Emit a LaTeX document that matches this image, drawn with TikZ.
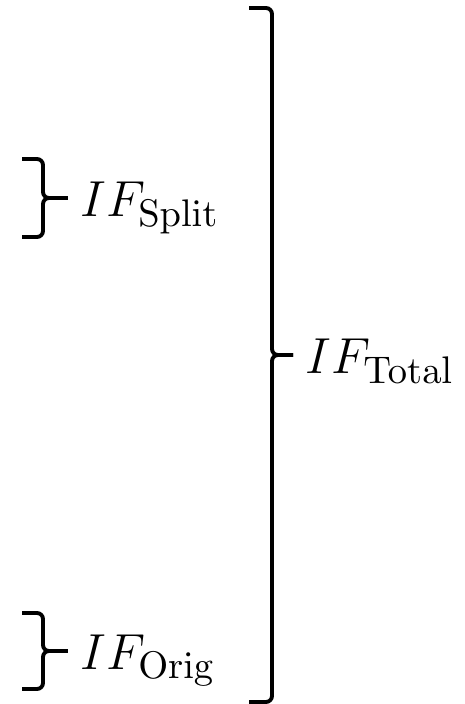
\documentclass[tikz,border=0pt]{standalone}
\usetikzlibrary{calc}

\begin{document}
\begin{tikzpicture}[
        bracepath/.style={draw, line width=1.1pt, rounded corners=0.06cm},
        lbl/.style={anchor=base west, yshift=-0.19cm, font=\fontsize{15}{18}\selectfont}
    ]
        \useasboundingbox (0,0) rectangle (4.65,7.04);

        % small braces on the left
        \coordinate (splittop) at (0.22,5.45);
        \coordinate (splitbot) at (0.22,4.67);
        \coordinate (splittip) at (0.68,5.06);
        \coordinate (origtop) at (0.22,0.91);
        \coordinate (origbot) at (0.22,0.15);
        \coordinate (origtip) at (0.68,0.53);
        % big brace
        \coordinate (totaltop) at (2.49,6.96);
        \coordinate (totalbot) at (2.49,0.02);
        \coordinate (totaltip) at (2.93,3.49);

        \draw[bracepath] (splittop) -- ++(0.21,0) |- (splittip);
        \draw[bracepath] (splitbot) -- ++(0.21,0) |- (splittip);
        \draw[bracepath] (origtop) -- ++(0.21,0) |- (origtip);
        \draw[bracepath] (origbot) -- ++(0.21,0) |- (origtip);
        \draw[bracepath] (totaltop) -- ++(0.23,0) |- (totaltip);
        \draw[bracepath] (totalbot) -- ++(0.23,0) |- (totaltip);

        \node[lbl] (split) at (splittip) {$IF_{\mathrm{Split}}$};
        \node[lbl] (orig) at (origtip) {$IF_{\mathrm{Orig}}$};
        \node[lbl] (total) at (totaltip) {$IF_{\mathrm{Total}}$};
    \end{tikzpicture}
\end{document}
